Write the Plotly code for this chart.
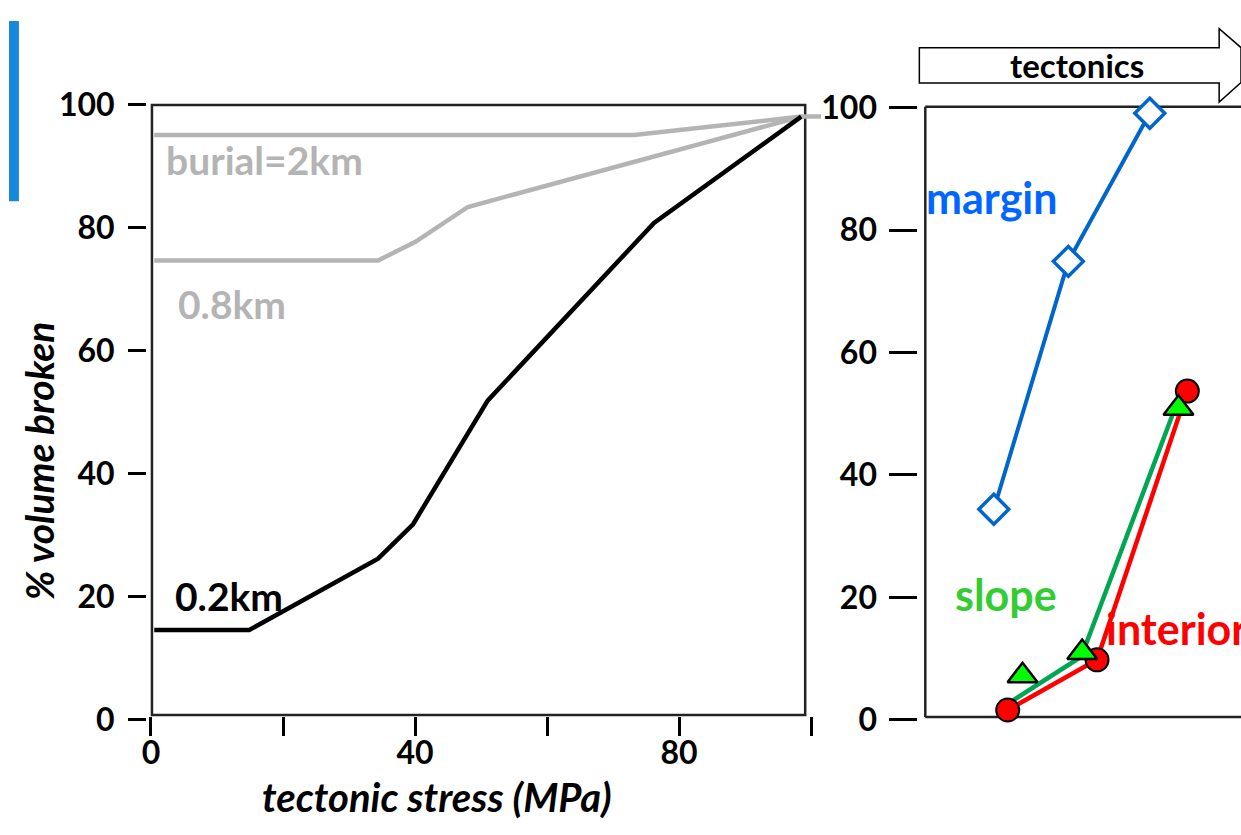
import plotly.graph_objects as go

W, H = 1241, 835
def px(x): return min(max(x / W, 0), 1)
def py(y): return min(max(1 - y / H, 0), 1)

FONT = "Lato"
GRAY = "#b4b4b4"

# ---- left panel data (tectonic stress MPa vs % volume broken)
stress_2km = [0.5, 73.2, 98.5, 101.5]
vol_2km = [95.1, 95.1, 98.1, 98.1]
stress_08km = [0.5, 34.4, 40.0, 48.0, 98.5]
vol_08km = [74.7, 74.7, 77.7, 83.4, 98.1]
stress_02km = [0.5, 14.9, 34.4, 39.7, 51.0, 76.2, 98.5]
vol_02km = [14.6, 14.6, 26.2, 31.8, 51.9, 80.8, 98.1]

x_tickvals = [0, 20, 40, 60, 80, 100]
x_ticktext = ["0", "", "40", "", "80", ""]
y_tickvals = [0, 20, 40, 60, 80, 100]
y_ticktext = ["0", "20", "40", "60", "80", "100"]

# ---- right panel data (position along tectonics arrow)
margin_x = [2.17, 4.53, 7.11]
margin_y = [34.4, 74.9, 99.1]
interior_x = [2.61, 5.44, 8.30]
interior_y = [1.6, 9.8, 53.7]
slope_line_x = [2.67, 4.94, 7.96]
slope_line_y = [2.8, 10.3, 51.6]
slope_x = [3.08, 4.97, 8.02]
slope_y = [7.2, 11.0, 50.9]

fig = go.Figure()

fig.add_trace(go.Scatter(x=stress_2km, y=vol_2km, mode="lines",
                         line=dict(color=GRAY, width=4.5), xaxis="x", yaxis="y"))
fig.add_trace(go.Scatter(x=stress_08km, y=vol_08km, mode="lines",
                         line=dict(color=GRAY, width=4.5), xaxis="x", yaxis="y"))
fig.add_trace(go.Scatter(x=stress_02km, y=vol_02km, mode="lines",
                         line=dict(color="black", width=4.5), xaxis="x", yaxis="y"))

fig.add_trace(go.Scatter(x=margin_x, y=margin_y, mode="lines+markers",
                         line=dict(color="#0066cc", width=4),
                         marker=dict(symbol="diamond", size=23, color="white",
                                     line=dict(color="#0066cc", width=3.5)),
                         cliponaxis=False, xaxis="x2", yaxis="y2"))
fig.add_trace(go.Scatter(x=slope_line_x, y=slope_line_y, mode="lines",
                         line=dict(color="#00a651", width=4.5),
                         xaxis="x2", yaxis="y2"))
fig.add_trace(go.Scatter(x=interior_x, y=interior_y, mode="lines+markers",
                         line=dict(color="#ff0000", width=4.5),
                         marker=dict(symbol="circle", size=23, color="#ff0000",
                                     line=dict(color="black", width=2)),
                         cliponaxis=False, xaxis="x2", yaxis="y2"))
fig.add_trace(go.Scatter(x=slope_x, y=slope_y, mode="markers",
                         marker=dict(symbol="triangle-up", size=26, color="#00ff00",
                                     line=dict(color="black", width=2.5)),
                         cliponaxis=False, xaxis="x2", yaxis="y2"))

tickfont = dict(family=FONT, size=32, color="black", weight="bold")

x_range = [0, 103]
x_right_px = 143 + (808 - 143) * x_range[1] / 100
fig.update_layout(
    xaxis=dict(domain=[px(143), px(x_right_px)], range=x_range, anchor="free",
               position=py(729), showgrid=False, zeroline=False, showline=False,
               ticks="outside", ticklen=19, tickwidth=3, tickcolor="black",
               tickvals=x_tickvals, ticktext=x_ticktext, tickfont=tickfont,
               ticklabelstandoff=-10),
    yaxis=dict(domain=[py(733), py(88)], range=[0, 100], anchor="free",
               position=px(138), showgrid=False, zeroline=False, showline=False,
               ticks="outside", ticklen=18, tickwidth=3, tickcolor="black",
               tickvals=y_tickvals, ticktext=y_ticktext, tickfont=tickfont,
               ticklabelstandoff=7),
    xaxis2=dict(domain=[px(923), 1], range=[0, 10], anchor="y2", visible=False),
    yaxis2=dict(domain=[py(733), py(91)], range=[0, 100], anchor="free",
                position=px(915), showgrid=False, zeroline=False, showline=False,
                ticks="outside", ticklen=28, tickwidth=3, tickcolor="black",
                tickvals=y_tickvals, ticktext=y_ticktext, tickfont=tickfont,
                ticklabelstandoff=6),
    width=W, height=H, margin=dict(l=0, r=0, t=0, b=0, pad=0),
    paper_bgcolor="white", plot_bgcolor="rgba(0,0,0,0)",
    showlegend=False,
)

frame = dict(color="#222222", width=2.5)
tip_x, tip_y, head_x, head_top, head_bot = 1261, 46, 1219, 8, 85
cut_top = tip_y - (tip_x - W) * (tip_y - head_top) / (tip_x - head_x)
cut_bot = tip_y + (tip_x - W) * (head_bot - tip_y) / (tip_x - head_x)
shapes = [
    dict(type="rect", xref="paper", yref="paper", x0=px(144), x1=px(802),
         y0=py(728), y1=py(88), line=frame, layer="below"),
    dict(type="line", xref="paper", yref="paper", x0=px(923), x1=px(923),
         y0=py(730), y1=py(90), line=frame, layer="below"),
    dict(type="line", xref="paper", yref="paper", x0=px(923), x1=1,
         y0=py(90), y1=py(90), line=frame, layer="below"),
    dict(type="line", xref="paper", yref="paper", x0=px(923), x1=1,
         y0=py(730), y1=py(730), line=frame, layer="below"),
    dict(type="rect", xref="paper", yref="paper", x0=0, x1=px(10),
         y0=py(189), y1=1, line=dict(width=0), fillcolor="#1788dc", layer="below"),
    dict(type="path", xref="paper", yref="paper",
         path=(f"M {px(917)},{py(28)} L {px(head_x)},{py(28)} L {px(head_x)},{py(head_top)} "
               f"L {px(W)},{py(cut_top)} L {px(W)},{py(cut_bot)} "
               f"L {px(head_x)},{py(head_bot)} L {px(head_x)},{py(65)} "
               f"L {px(917)},{py(65)} Z"),
         line=dict(color="black", width=1.5), fillcolor="white", layer="below"),
]
fig.update_layout(shapes=shapes)

def ann(text, x, y, color, size, xanchor="left", angle=0, italic=False):
    fig.add_annotation(text=text, xref="paper", yref="paper", x=px(x), y=py(y),
                       xanchor=xanchor, yanchor="middle", showarrow=False,
                       textangle=angle,
                       font=dict(family=FONT, size=size, color=color, weight="bold",
                                 style="italic" if italic else "normal"))

ann("burial=2km", 156, 146, GRAY, 39)
ann("0.8km", 168, 297, GRAY, 39)
ann("0.2km", 165, 603, "black", 39)
ann("margin", 922, 185, "#0066ff", 43)
ann("slope", 951, 602, "#33cc33", 43)
ann("interior", 1103, 637, "#ff0000", 43)
ann("tectonics", 1076, 46, "black", 33, xanchor="center")
ann("% volume broken", 31, 461, "black", 39, xanchor="center", angle=-90, italic=True)
ann("tectonic stress (MPa)", 431, 814, "black", 40, xanchor="center", italic=True)

fig.write_html("out.html")
